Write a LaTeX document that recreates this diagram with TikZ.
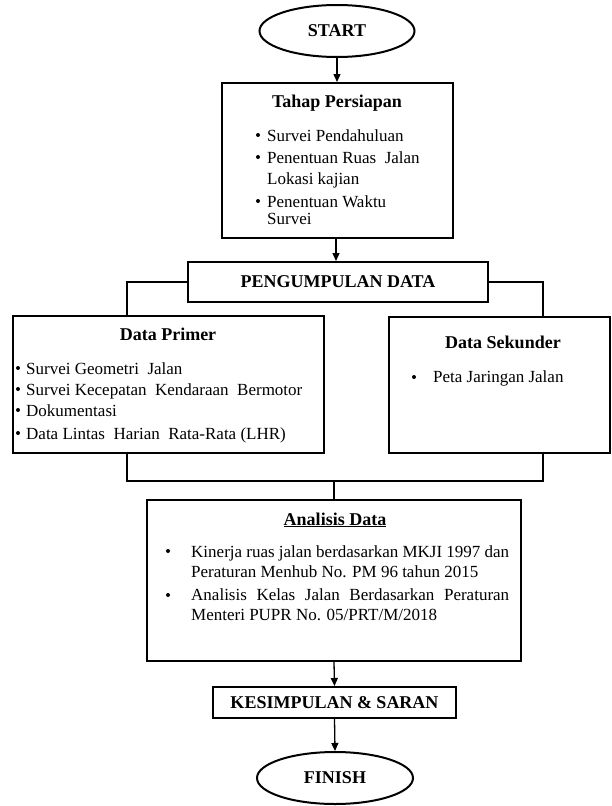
\documentclass[tikz,border=0pt]{standalone}
\usepackage{fontspec}
\setmainfont{Liberation Serif}
\usetikzlibrary{arrows.meta,shapes.geometric}
\begin{document}
\begin{tikzpicture}[x=1pt,y=-1pt,
  every node/.style={font=\fontsize{17}{21}\selectfont, inner sep=0pt},
  boldfont/.style={font=\fontsize{18}{21}\selectfont\bfseries},
  term/.style={draw, ellipse, line width=2pt, minimum width=155pt, minimum height=52pt, boldfont},
  box/.style={draw, rectangle, line width=2pt},
  conn/.style={line width=1.3pt},
  arr/.style={conn, -{Triangle[length=8pt,width=7pt]}},
  txt/.style={anchor=base west},
  ttl/.style={anchor=base, boldfont},
  bul/.style={fill=black}
]
\useasboundingbox (0,0) rectangle (612,806);

% main shapes
\node[term] (start) at (337,31) {START};
\node[box, minimum width=231pt, minimum height=155pt] (tahap) at (337.5,160.5) {};
\node[box, minimum width=300pt, minimum height=40pt, boldfont] (peng) at (338,282) {PENGUMPULAN DATA};
\node[box, minimum width=311pt, minimum height=137pt] (primer) at (168.5,384.5) {};
\node[box, minimum width=221pt, minimum height=136pt] (sek) at (499.5,385) {};
\node[box, minimum width=374pt, minimum height=161pt] (ana) at (334,580.5) {};
\node[box, minimum width=243pt, minimum height=31pt, boldfont] (kes) at (334.5,702.5) {KESIMPULAN \& SARAN};
\node[term, minimum width=156pt] (finish) at (335,778) {FINISH};

% Tahap Persiapan text
\node[ttl] (tahapT) at (337,107) {Tahap Persiapan};
\fill[bul] (258,135) circle (2pt);
\node[txt] (tah1) at (267,141) {Survei Pendahuluan};
\fill[bul] (258,157) circle (2pt);
\node[txt] (tah2) at (267,163) {Penentuan Ruas\ \ Jalan};
\node[txt] (tah3) at (267,184) {Lokasi kajian};
\fill[bul] (258,201) circle (2pt);
\node[txt] (tah4) at (267,207) {Penentuan Waktu};
\node[txt] (tah5) at (267,224) {Survei};

% Data Primer text
\node[ttl] (primT) at (168,340) {Data Primer};
\fill[bul] (18,368) circle (2pt);
\node[txt] (pr1) at (26,374) {Survei Geometri\ \ Jalan};
\fill[bul] (18,389) circle (2pt);
\node[txt] (pr2) at (26,395) {Survei Kecepatan\ \ Kendaraan\ \ Bermotor};
\fill[bul] (18,410) circle (2pt);
\node[txt] (pr3) at (26,416) {Dokumentasi};
\fill[bul] (18,433) circle (2pt);
\node[txt] (pr4) at (26,439) {Data Lintas\ \ Harian\ \ Rata-Rata (LHR)};

% Data Sekunder text
\node[ttl] (sekT) at (503,348) {Data Sekunder};
\fill[bul] (414,377) circle (2pt);
\node[txt] (sk1) at (433,382) {Peta Jaringan Jalan};

% Analisis Data text
\node[ttl] (anaT) at (335,525) {\underline{Analisis Data}};
\fill[bul] (168,551) circle (2pt);
\node[txt] (an1) at (191,557) {\makebox[318pt][s]{Kinerja ruas jalan berdasarkan MKJI 1997 dan}};
\node[txt] (an2) at (191,577) {Peraturan Menhub No. PM 96 tahun 2015};
\fill[bul] (168,595) circle (2pt);
\node[txt] (an3) at (191,600) {\makebox[318pt][s]{Analisis Kelas Jalan Berdasarkan Peraturan}};
\node[txt] (an4) at (191,620) {Menteri PUPR No. 05/PRT/M/2018};

% connectors
\coordinate (pl) at (127,282);
\coordinate (pr) at (543,283);
\coordinate (jl) at (127,481);
\coordinate (jr) at (543,481);

\draw[arr] (start.south) -- (start.south |- tahap.north);
\draw[arr] (tahap.south -| 336,0) -- (peng.north -| 336,0);
\draw[conn] (peng.west) -| (pl |- primer.north);
\draw[conn] (peng.east) -| (pr |- sek.north);
\draw[conn] (jl |- primer.south) -- (jl) -- (jr) -- (jr |- sek.south);
\draw[conn] (jl -| ana.north) -- (ana.north);
\draw[arr] (ana.south) -- (kes.north);
\draw[arr] (kes.south) -- (finish.north);
\end{tikzpicture}
\end{document}
